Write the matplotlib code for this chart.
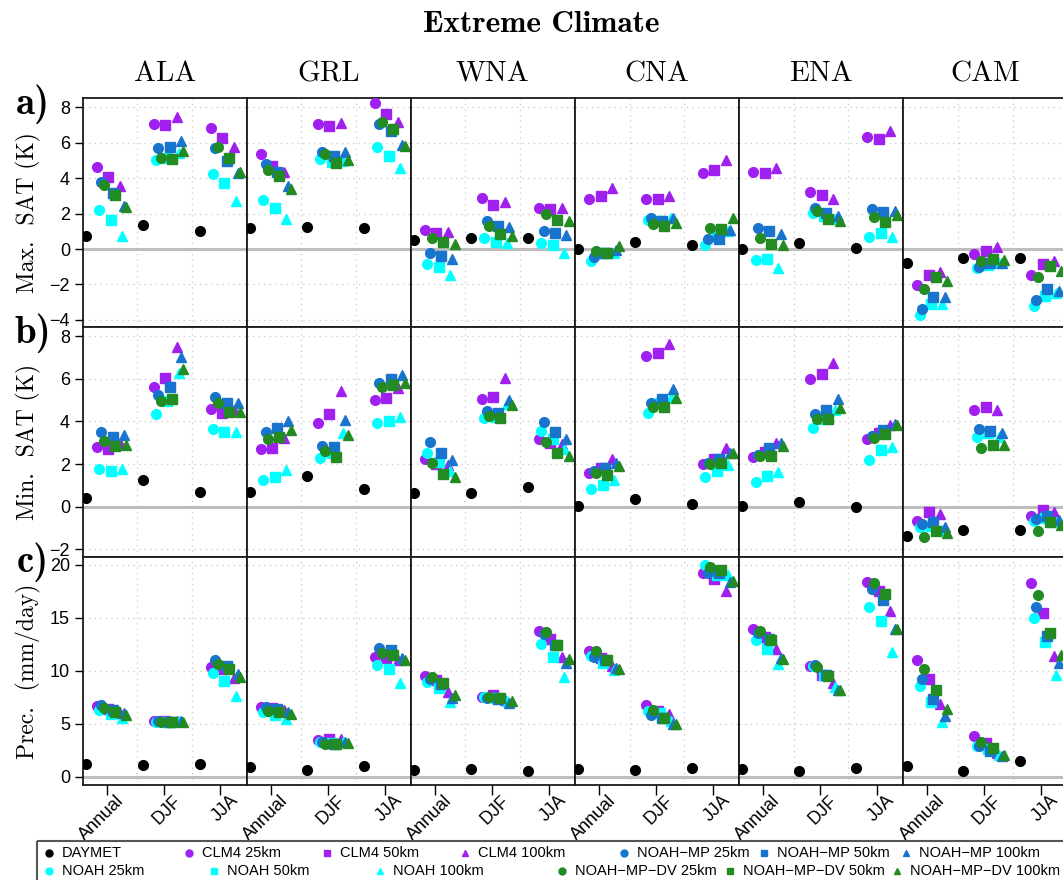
import numpy as np
import matplotlib.pyplot as plt
from matplotlib.patches import Rectangle
from matplotlib.transforms import ScaledTranslation

regions = ["ALA", "GRL", "WNA", "CNA", "ENA", "CAM"]
seasons = ["Annual", "DJF", "JJA"]
models = ["CLM4", "NOAH", "NOAH\u2212MP", "NOAH\u2212MP\u2212DV"]
resolutions = ["25km", "50km", "100km"]
model_colors = ["#A020F0", "#00FFFF", "#1874CD", "#228B22"]
res_markers = ["o", "s", "^"]

# values ordered region by region (ALA, GRL, WNA, CNA, ENA, CAM), each Annual, DJF, JJA
tmax = {
    "DAYMET": [0.75, 1.36, 1.03, 1.17, 1.26, 1.21, 0.49, 0.64, 0.64, 0.02, 0.40, 0.21, 0.02, 0.32, 0.04, -0.79, -0.51, -0.51],
    "CLM4 25km": [4.63, 7.04, 6.82, 5.39, 7.04, 8.25, 1.07, 2.88, 2.33, 2.84, 2.84, 4.29, 4.35, 3.22, 6.33, -2.03, -0.26, -1.47],
    "CLM4 50km": [4.07, 7.02, 6.27, 4.69, 6.95, 7.63, 0.92, 2.50, 2.28, 3.01, 2.84, 4.46, 4.31, 3.07, 6.23, -1.45, -0.10, -0.83],
    "CLM4 100km": [3.54, 7.47, 5.74, 4.35, 7.14, 7.19, 0.96, 2.63, 2.32, 3.45, 2.99, 5.01, 4.56, 2.84, 6.67, -1.30, 0.13, -0.70],
    "NOAH 25km": [2.22, 5.05, 4.22, 2.75, 5.07, 5.74, -0.83, 0.64, 0.34, -0.68, 1.64, 0.23, -0.62, 2.05, 0.68, -3.71, -1.05, -3.20],
    "NOAH 50km": [1.66, 5.16, 3.73, 2.32, 4.90, 5.25, -1.02, 0.41, 0.24, -0.25, 1.58, 0.73, -0.55, 1.86, 0.92, -3.09, -0.90, -2.64],
    "NOAH 100km": [0.73, 5.44, 2.71, 1.69, 4.99, 4.60, -1.47, 0.34, -0.23, -0.25, 1.73, 1.02, -1.07, 1.68, 0.70, -3.10, -0.80, -2.50],
    "NOAH\u2212MP 25km": [3.77, 5.71, 5.69, 4.80, 5.48, 7.06, -0.21, 1.58, 1.02, -0.43, 1.75, 0.56, 1.17, 2.33, 2.24, -3.37, -1.03, -2.88],
    "NOAH\u2212MP 50km": [3.16, 5.74, 4.97, 4.37, 5.24, 6.67, -0.38, 1.28, 0.92, -0.25, 1.58, 0.58, 1.03, 2.05, 2.09, -2.69, -0.79, -2.28],
    "NOAH\u2212MP 100km": [2.41, 6.12, 4.31, 3.58, 5.50, 5.86, -0.55, 1.26, 0.77, -0.06, 1.77, 1.06, 0.83, 1.86, 2.16, -2.69, -0.78, -2.36],
    "NOAH\u2212MP\u2212DV 25km": [3.63, 5.14, 5.74, 4.48, 5.37, 7.18, 0.64, 1.28, 1.96, -0.13, 1.43, 1.21, 0.64, 2.16, 1.79, -2.24, -0.68, -1.60],
    "NOAH\u2212MP\u2212DV 50km": [3.05, 5.08, 5.14, 4.14, 4.88, 6.76, 0.41, 0.86, 1.66, -0.23, 1.32, 1.15, 0.30, 1.71, 1.54, -1.56, -0.55, -0.94],
    "NOAH\u2212MP\u2212DV 100km": [2.35, 5.55, 4.35, 3.39, 5.05, 5.82, 0.26, 0.75, 1.58, 0.19, 1.49, 1.77, 0.23, 1.58, 1.92, -1.79, -0.60, -1.25],
}

tmin = {
    "DAYMET": [0.41, 1.25, 0.69, 0.69, 1.44, 0.85, 0.66, 0.66, 0.93, 0.05, 0.38, 0.12, 0.05, 0.24, -0.02, -1.37, -1.10, -1.10],
    "CLM4 25km": [2.82, 5.60, 4.57, 2.69, 3.91, 5.00, 2.25, 5.03, 3.16, 1.60, 7.08, 2.00, 2.35, 5.97, 3.18, -0.67, 4.52, -0.43],
    "CLM4 50km": [2.71, 6.05, 4.41, 2.74, 4.35, 5.10, 1.99, 5.16, 2.97, 1.80, 7.20, 2.22, 2.58, 6.22, 3.47, -0.24, 4.66, -0.15],
    "CLM4 100km": [2.97, 7.47, 4.53, 3.21, 5.44, 5.58, 1.96, 6.05, 2.92, 2.22, 7.63, 2.74, 3.00, 6.75, 3.83, -0.34, 4.52, -0.24],
    "NOAH 25km": [1.75, 4.35, 3.66, 1.25, 2.30, 3.92, 2.52, 4.14, 3.53, 0.83, 4.41, 1.38, 1.15, 3.69, 2.20, -0.95, 3.28, -0.66],
    "NOAH 50km": [1.68, 4.97, 3.52, 1.40, 2.50, 4.02, 2.11, 4.22, 3.18, 1.02, 4.85, 1.69, 1.46, 4.10, 2.66, -0.90, 3.44, -0.52],
    "NOAH 100km": [1.75, 6.28, 3.49, 1.70, 3.47, 4.22, 1.68, 4.81, 2.71, 1.26, 5.13, 1.96, 1.64, 4.52, 2.82, -1.09, 3.28, -0.70],
    "NOAH\u2212MP 25km": [3.49, 5.25, 5.13, 3.52, 2.86, 5.78, 3.05, 4.49, 3.97, 1.68, 4.85, 2.07, 2.43, 4.33, 3.30, -0.80, 3.64, -0.56],
    "NOAH\u2212MP 50km": [3.28, 5.63, 4.85, 3.70, 2.82, 6.00, 2.53, 4.41, 3.52, 1.80, 5.03, 2.22, 2.74, 4.53, 3.58, -0.70, 3.56, -0.43],
    "NOAH\u2212MP 100km": [3.36, 7.00, 4.85, 4.02, 4.07, 6.16, 2.18, 5.00, 3.16, 2.04, 5.52, 2.50, 3.00, 5.05, 3.86, -0.95, 3.46, -0.61],
    "NOAH\u2212MP\u2212DV 25km": [3.10, 4.94, 4.85, 3.16, 2.60, 5.60, 2.07, 4.25, 3.05, 1.57, 4.66, 2.00, 2.38, 4.11, 3.21, -1.41, 2.77, -1.14],
    "NOAH\u2212MP\u2212DV 50km": [2.85, 5.03, 4.46, 3.28, 2.35, 5.70, 1.54, 4.17, 2.53, 1.50, 4.67, 2.07, 2.39, 4.13, 3.42, -1.14, 2.88, -0.70],
    "NOAH\u2212MP\u2212DV 100km": [2.91, 6.47, 4.43, 3.60, 3.38, 5.78, 1.41, 4.77, 2.39, 1.90, 5.11, 2.50, 2.86, 4.63, 3.83, -1.23, 2.88, -0.85],
}

prec = {
    "DAYMET": [1.20, 1.13, 1.20, 0.88, 0.63, 1.04, 0.63, 0.73, 0.54, 0.73, 0.63, 0.82, 0.73, 0.54, 0.82, 1.04, 0.54, 1.45],
    "CLM4 25km": [6.70, 5.25, 10.38, 6.60, 3.46, 11.26, 9.53, 7.55, 13.72, 11.89, 6.80, 19.20, 13.93, 10.41, 18.40, 10.98, 3.81, 18.27],
    "CLM4 50km": [6.36, 5.30, 10.16, 6.51, 3.52, 11.17, 9.12, 7.68, 13.02, 11.20, 6.20, 18.65, 13.21, 9.62, 17.52, 9.25, 3.15, 15.47],
    "CLM4 100km": [6.00, 5.30, 9.31, 6.29, 3.55, 11.00, 8.02, 7.26, 11.32, 10.44, 5.95, 17.55, 12.05, 8.81, 15.63, 6.83, 2.26, 11.36],
    "NOAH 25km": [6.29, 5.20, 9.81, 6.10, 3.24, 10.54, 8.93, 7.55, 12.52, 11.39, 6.20, 19.94, 12.90, 10.44, 16.04, 8.58, 2.90, 15.00],
    "NOAH 50km": [5.92, 5.20, 9.06, 5.82, 3.20, 10.16, 8.40, 7.45, 11.32, 10.76, 6.00, 19.03, 12.05, 9.62, 14.72, 7.08, 2.58, 12.71],
    "NOAH 100km": [5.50, 5.25, 7.61, 5.41, 3.30, 8.87, 7.02, 7.10, 9.43, 10.07, 5.30, 19.00, 10.60, 8.49, 11.76, 5.16, 2.02, 9.62],
    "NOAH\u2212MP 25km": [6.73, 5.25, 11.00, 6.60, 3.27, 12.14, 9.22, 7.39, 13.43, 11.26, 5.82, 19.24, 13.59, 10.50, 17.70, 9.19, 2.90, 16.00],
    "NOAH\u2212MP 50km": [6.29, 5.20, 10.44, 6.36, 3.10, 11.92, 8.72, 7.35, 12.42, 11.00, 5.50, 19.24, 13.02, 9.59, 16.67, 7.33, 2.42, 13.27],
    "NOAH\u2212MP 100km": [5.98, 5.25, 9.66, 6.10, 3.25, 11.20, 7.39, 7.00, 10.70, 10.30, 5.00, 18.40, 11.23, 8.18, 13.93, 5.73, 2.00, 10.76],
    "NOAH\u2212MP\u2212DV 25km": [6.48, 5.20, 10.66, 6.17, 3.08, 11.70, 9.43, 7.55, 13.65, 11.86, 6.26, 19.80, 13.75, 10.38, 18.24, 10.19, 3.24, 17.11],
    "NOAH\u2212MP\u2212DV 50km": [6.13, 5.15, 10.16, 6.13, 3.08, 11.48, 8.81, 7.45, 12.42, 11.00, 5.50, 19.50, 12.90, 9.53, 17.24, 8.21, 2.74, 13.58],
    "NOAH\u2212MP\u2212DV 100km": [5.82, 5.20, 9.38, 5.94, 3.14, 11.00, 7.68, 7.10, 11.08, 10.20, 4.95, 18.43, 11.10, 8.18, 13.93, 6.36, 2.02, 11.48],
}

row_data = [tmax, tmin, prec]
row_labels = ["Max.  SAT (K)", "Min.  SAT (K)", "Prec.  (mm/day)"]
row_letters = ["a)", "b)", "c)"]
row_ylims = [(-4.42, 8.51), (-2.34, 8.41), (-0.78, 20.75)]
row_yticks = [np.arange(-4, 9, 2), np.arange(-2, 9, 2), np.arange(0, 21, 5)]

W, H = 1063, 880
fig = plt.figure(figsize=(W / 100, H / 100), dpi=100)

col_left, col_w = 82.6, 164.1
row_top = [98.3, 327.3, 556.7]
row_bot = [327.3, 556.7, 785.0]
xlim = (0.58, 3.46)
tick_font = "Liberation Sans"
grid_kw = dict(color="#CFCFCF", ls=(0, (1, 3)), lw=1.0, zorder=0)

for i, data in enumerate(row_data):
    for j, region in enumerate(regions):
        ax = fig.add_axes([(col_left + j * col_w) / W, 1 - row_bot[i] / H,
                           col_w / W, (row_bot[i] - row_top[i]) / H])
        ax.set_xlim(*xlim)
        ax.set_ylim(*row_ylims[i])

        # grid: dotted lines, zero line solid gray
        for yv in row_yticks[i]:
            if yv == 0:
                ax.axhline(0, color="#BEBEBE", lw=2.2, zorder=1)
            else:
                ax.axhline(yv, **grid_kw)
        for xv in np.linspace(xlim[0], xlim[1], 4)[1:3]:
            ax.axvline(xv, **grid_kw)

        sl = slice(3 * j, 3 * j + 3)
        pos = np.arange(1, 4)
        ax.plot(pos - 0.36, data["DAYMET"][sl], "o", color="black", ms=7, zorder=3)
        for m, (model, color) in enumerate(zip(models, model_colors)):
            for k, (res, marker) in enumerate(zip(resolutions, res_markers)):
                xs = pos - 0.17 + 0.2 * k + 0.04 * m
                ax.plot(xs, data[f"{model} {res}"][sl], marker, color=color,
                        ms=7 if marker != "s" else 6.5, ls="none", zorder=3 + m)

        for sp in ax.spines.values():
            sp.set_color("#1a1a1a")
            sp.set_linewidth(1.3)

        if j == 0:
            ax.set_yticks(row_yticks[i])
            ax.tick_params(axis="y", direction="out", length=6, width=1, labelsize=13, pad=3)
            for lab in ax.get_yticklabels():
                lab.set_family(tick_font)
        else:
            ax.set_yticks([])

        if i == 2:
            ax.set_xticks(pos)
            ax.set_xticklabels([])
            ax.tick_params(axis="x", direction="out", length=7, width=1)
            off = ScaledTranslation(0.15, -0.13, fig.dpi_scale_trans)
            for p, s in zip(pos, seasons):
                ax.text(p, 0, s, transform=ax.get_xaxis_transform() + off,
                        rotation=45, ha="right", va="center", rotation_mode="anchor",
                        fontsize=13, family=tick_font)
        else:
            ax.set_xticks([])

# overlay in pixel coordinates for titles and legend
ov = fig.add_axes([0, 0, 1, 1])
ov.set_xlim(0, W)
ov.set_ylim(H, 0)
ov.axis("off")

ov.text(541, 25, "Extreme Climate", ha="center", va="center", fontsize=22.5,
        family="cmb10", fontweight="bold")
for j, region in enumerate(regions):
    ov.text(col_left + (j + 0.5) * col_w, 74, region, ha="center", va="center",
            fontsize=21, family="cmr10")
for i in range(3):
    ov.text(33, row_top[i] + 6, row_letters[i], ha="center", va="center",
            fontsize=28, family="cmb10", fontweight="bold")
    ov.text(28, (row_top[i] + row_bot[i]) / 2, row_labels[i], rotation=90,
            ha="center", va="center", fontsize=17, family="cmr10")

# legend
ov.add_patch(Rectangle((37, 841), 1100, 60, fill=False, edgecolor="#555555", lw=1.5))
row1 = [("DAYMET", "o", "black")]
row1 += [(f"CLM4 {r}", mk, model_colors[0]) for r, mk in zip(resolutions, res_markers)]
row1 += [(f"NOAH\u2212MP {r}", mk, model_colors[2]) for r, mk in zip(resolutions, res_markers)]
row2 = [(f"NOAH {r}", mk, model_colors[1]) for r, mk in zip(resolutions, res_markers)]
row2 += [(f"NOAH\u2212MP\u2212DV {r}", mk, model_colors[3]) for r, mk in zip(resolutions, res_markers)]
leg_rows = [(852.7, row1, [49, 189, 327, 465, 624, 764, 905.7]),
            (871.0, row2, [49, 214, 380, 562, 730, 896.7])]
for ly, items, xs in leg_rows:
    for (label, mk, color), lx in zip(items, xs):
        ov.plot([lx], [ly], mk, color=color, ms=5 if mk != "s" else 4.6)
        ov.text(lx + 13, ly, label, ha="left", va="center", fontsize=10.5, family=tick_font)

fig.savefig("out.png", dpi=100)
